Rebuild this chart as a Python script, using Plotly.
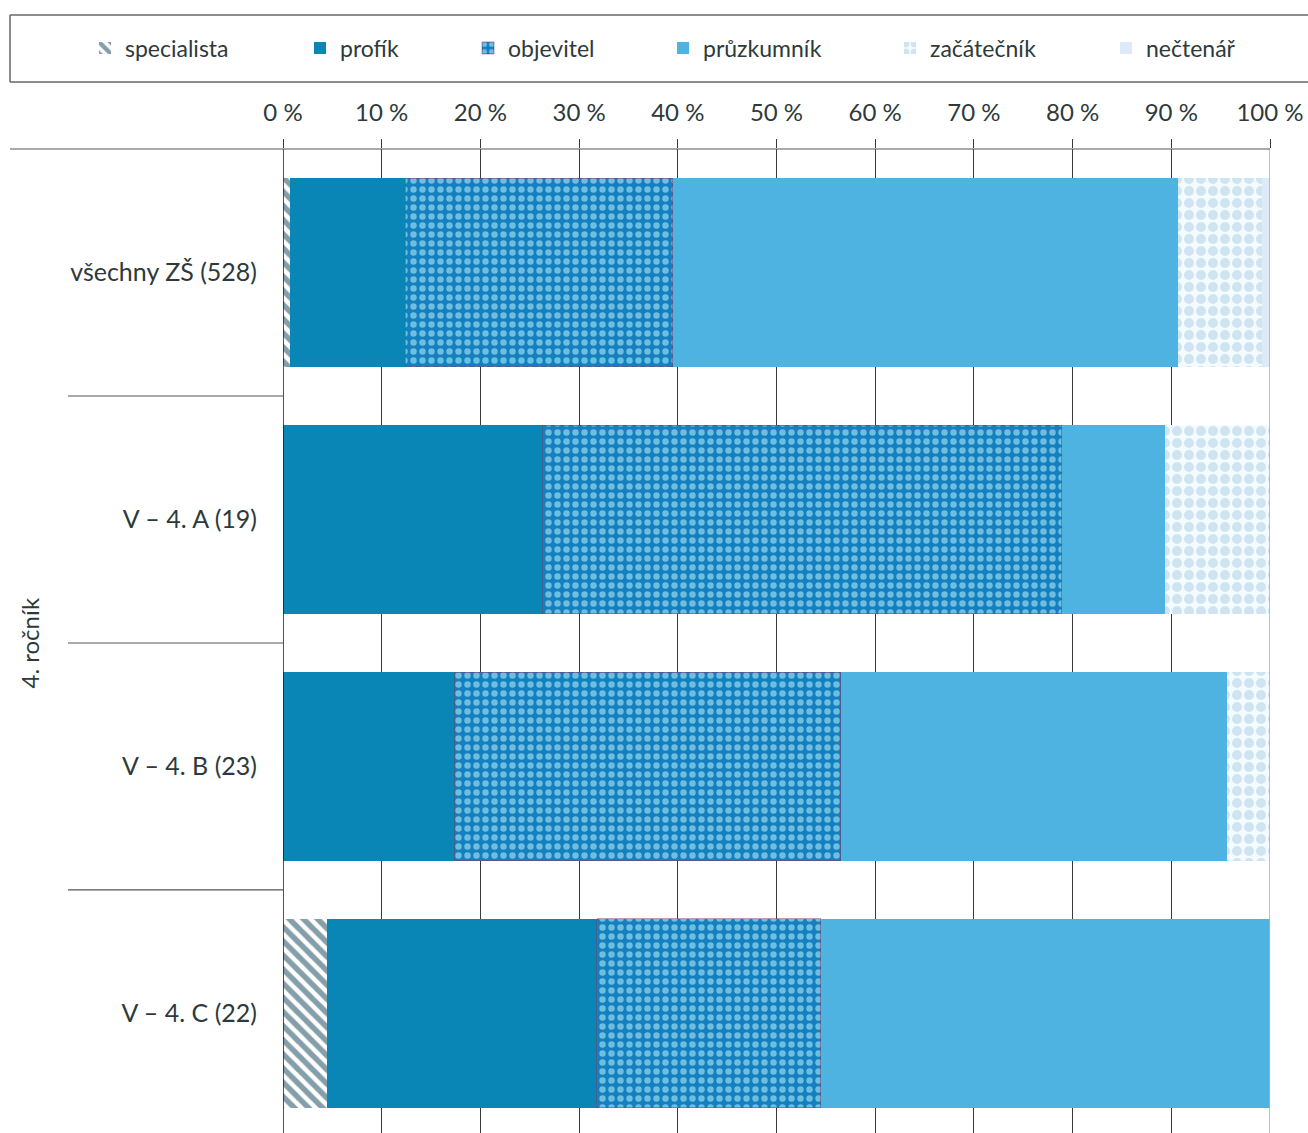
import plotly.graph_objects as go

categories = ["všechny ZŠ (528)", "V – 4. A (19)", "V – 4. B (23)", "V – 4. C (22)"]
series_names = ["specialista", "profík", "objevitel", "průzkumník", "začátečník", "nečtenář"]
specialista = [0.7, 0.0, 0.0, 4.5]
profik = [11.7, 26.3, 17.4, 27.3]
objevitel = [27.1, 52.6, 39.1, 22.7]
pruzkumnik = [51.2, 10.5, 39.1, 45.5]
zacatecnik = [8.5, 10.6, 4.4, 0.0]
nectenar = [0.8, 0.0, 0.0, 0.0]
tick_vals = [0, 10, 20, 30, 40, 50, 60, 70, 80, 90, 100]
tick_text = ["0 %", "10 %", "20 %", "30 %", "40 %", "50 %", "60 %", "70 %", "80 %", "90 %", "100 %"]
group_label = "4. ročník"

values = [specialista, profik, objevitel, pruzkumnik, zacatecnik, nectenar]

FONT = "Lato"
TXT = "#2e3a3a"

styles = [
    dict(color="#ffffff", pattern=dict(shape="\\", fgcolor="#0a3f55", bgcolor="#ffffff", size=10, solidity=0.55)),
    dict(color="#0a86b6"),
    dict(color="#1a8acb", pattern=dict(shape=".", fgcolor="#c8fbff", bgcolor="#1580c0", size=9, solidity=0.4),
         line=dict(color="#7a3a66", width=0.5)),
    dict(color="#4fb3e2"),
    dict(color="#ffffff", pattern=dict(shape=".", fgcolor="#a9cde2", bgcolor="#f4fbff", size=12, solidity=0.55)),
    dict(color="#dcebf7"),
]

L = 283
PW = 987
legend_px = [100, 315, 483, 678, 905, 1121]

fig = go.Figure()
for i, (name, vals, st) in enumerate(zip(series_names, values, styles)):
    marker = dict(color=st["color"])
    if "pattern" in st:
        marker["pattern"] = st["pattern"]
    marker["line"] = st.get("line", dict(width=0))
    lg = "legend" if i == 0 else f"legend{i+1}"
    fig.add_trace(go.Bar(
        y=categories, x=vals, name=name, orientation="h",
        marker=marker, legend=lg, showlegend=True,
    ))

layout_legends = {}
leg_y = 1 + (149 - 48) / 984
for i, px in enumerate(legend_px):
    key = "legend" if i == 0 else f"legend{i+1}"
    layout_legends[key] = dict(
        x=(px - 15 - L) / PW, xanchor="left", y=leg_y, yanchor="middle",
        bgcolor="rgba(0,0,0,0)", borderwidth=0, itemwidth=30,
        font=dict(family=FONT, size=23, color=TXT),
        orientation="h",
    )

fig.update_layout(
    width=1308, height=1133,
    margin=dict(l=L, r=1308 - 1270, t=149, b=0),
    paper_bgcolor="white", plot_bgcolor="white",
    barmode="stack", bargap=0.235, showlegend=True,
    font=dict(family=FONT, size=23, color=TXT),
    **layout_legends,
)

fig.update_xaxes(
    side="top", range=[0, 100], tickvals=tick_vals, ticktext=tick_text,
    showgrid=True, gridcolor="#3a3a3a", gridwidth=1,
    ticks="outside", ticklen=9, tickcolor="#3a3a3a",
    ticklabelstandoff=8, zeroline=False, showline=False,
    tickfont=dict(family=FONT, size=24, color=TXT),
)
fig.update_yaxes(
    categoryorder="array", categoryarray=categories,
    range=[3.484, -0.5], showgrid=False, zeroline=False,
    showline=False, ticks="", ticklabelstandoff=25,
    tickfont=dict(family=FONT, size=25, color=TXT),
)

shapes = []
shapes.append(dict(type="line", xref="x", yref="paper", x0=0, x1=0, y0=0, y1=1,
                   line=dict(color="#1a1a1a", width=1.5), layer="above"))
shapes.append(dict(type="line", xref="x", yref="paper", x0=100, x1=100, y0=0, y1=1,
                   line=dict(color="#a8b0b8", width=1.5), layer="above"))
shapes.append(dict(type="line", xref="paper", yref="paper", x0=(10 - L) / PW, x1=1, y0=1, y1=1,
                   line=dict(color="#555555", width=1.2)))
for b in [0.5, 1.5, 2.5]:
    shapes.append(dict(type="line", xref="paper", yref="y", x0=(68 - L) / PW, x1=0, y0=b, y1=b,
                       line=dict(color="#555555", width=1.2)))
bx0 = (10 - L) / PW
bx1 = (1308 - L) / PW
by0 = 1 + (149 - 82) / 984
by1 = 1 + (149 - 15) / 984
for (xa, ya, xb, yb) in [(bx0, by1, bx1, by1), (bx0, by0, bx1, by0), (bx0, by0, bx0, by1)]:
    shapes.append(dict(type="line", xref="paper", yref="paper", x0=xa, y0=ya, x1=xb, y1=yb,
                       line=dict(color="#666666", width=1.5)))
fig.update_layout(shapes=shapes)

fig.add_annotation(
    text=group_label, xref="paper", yref="paper",
    x=(12 - L) / PW, y=1 - (643 - 149) / 984, textangle=-90,
    showarrow=False, font=dict(family=FONT, size=24, color=TXT),
)

fig.write_html("out.html", config={"displayModeBar": False},
               post_script="document.body.style.margin='0';")
